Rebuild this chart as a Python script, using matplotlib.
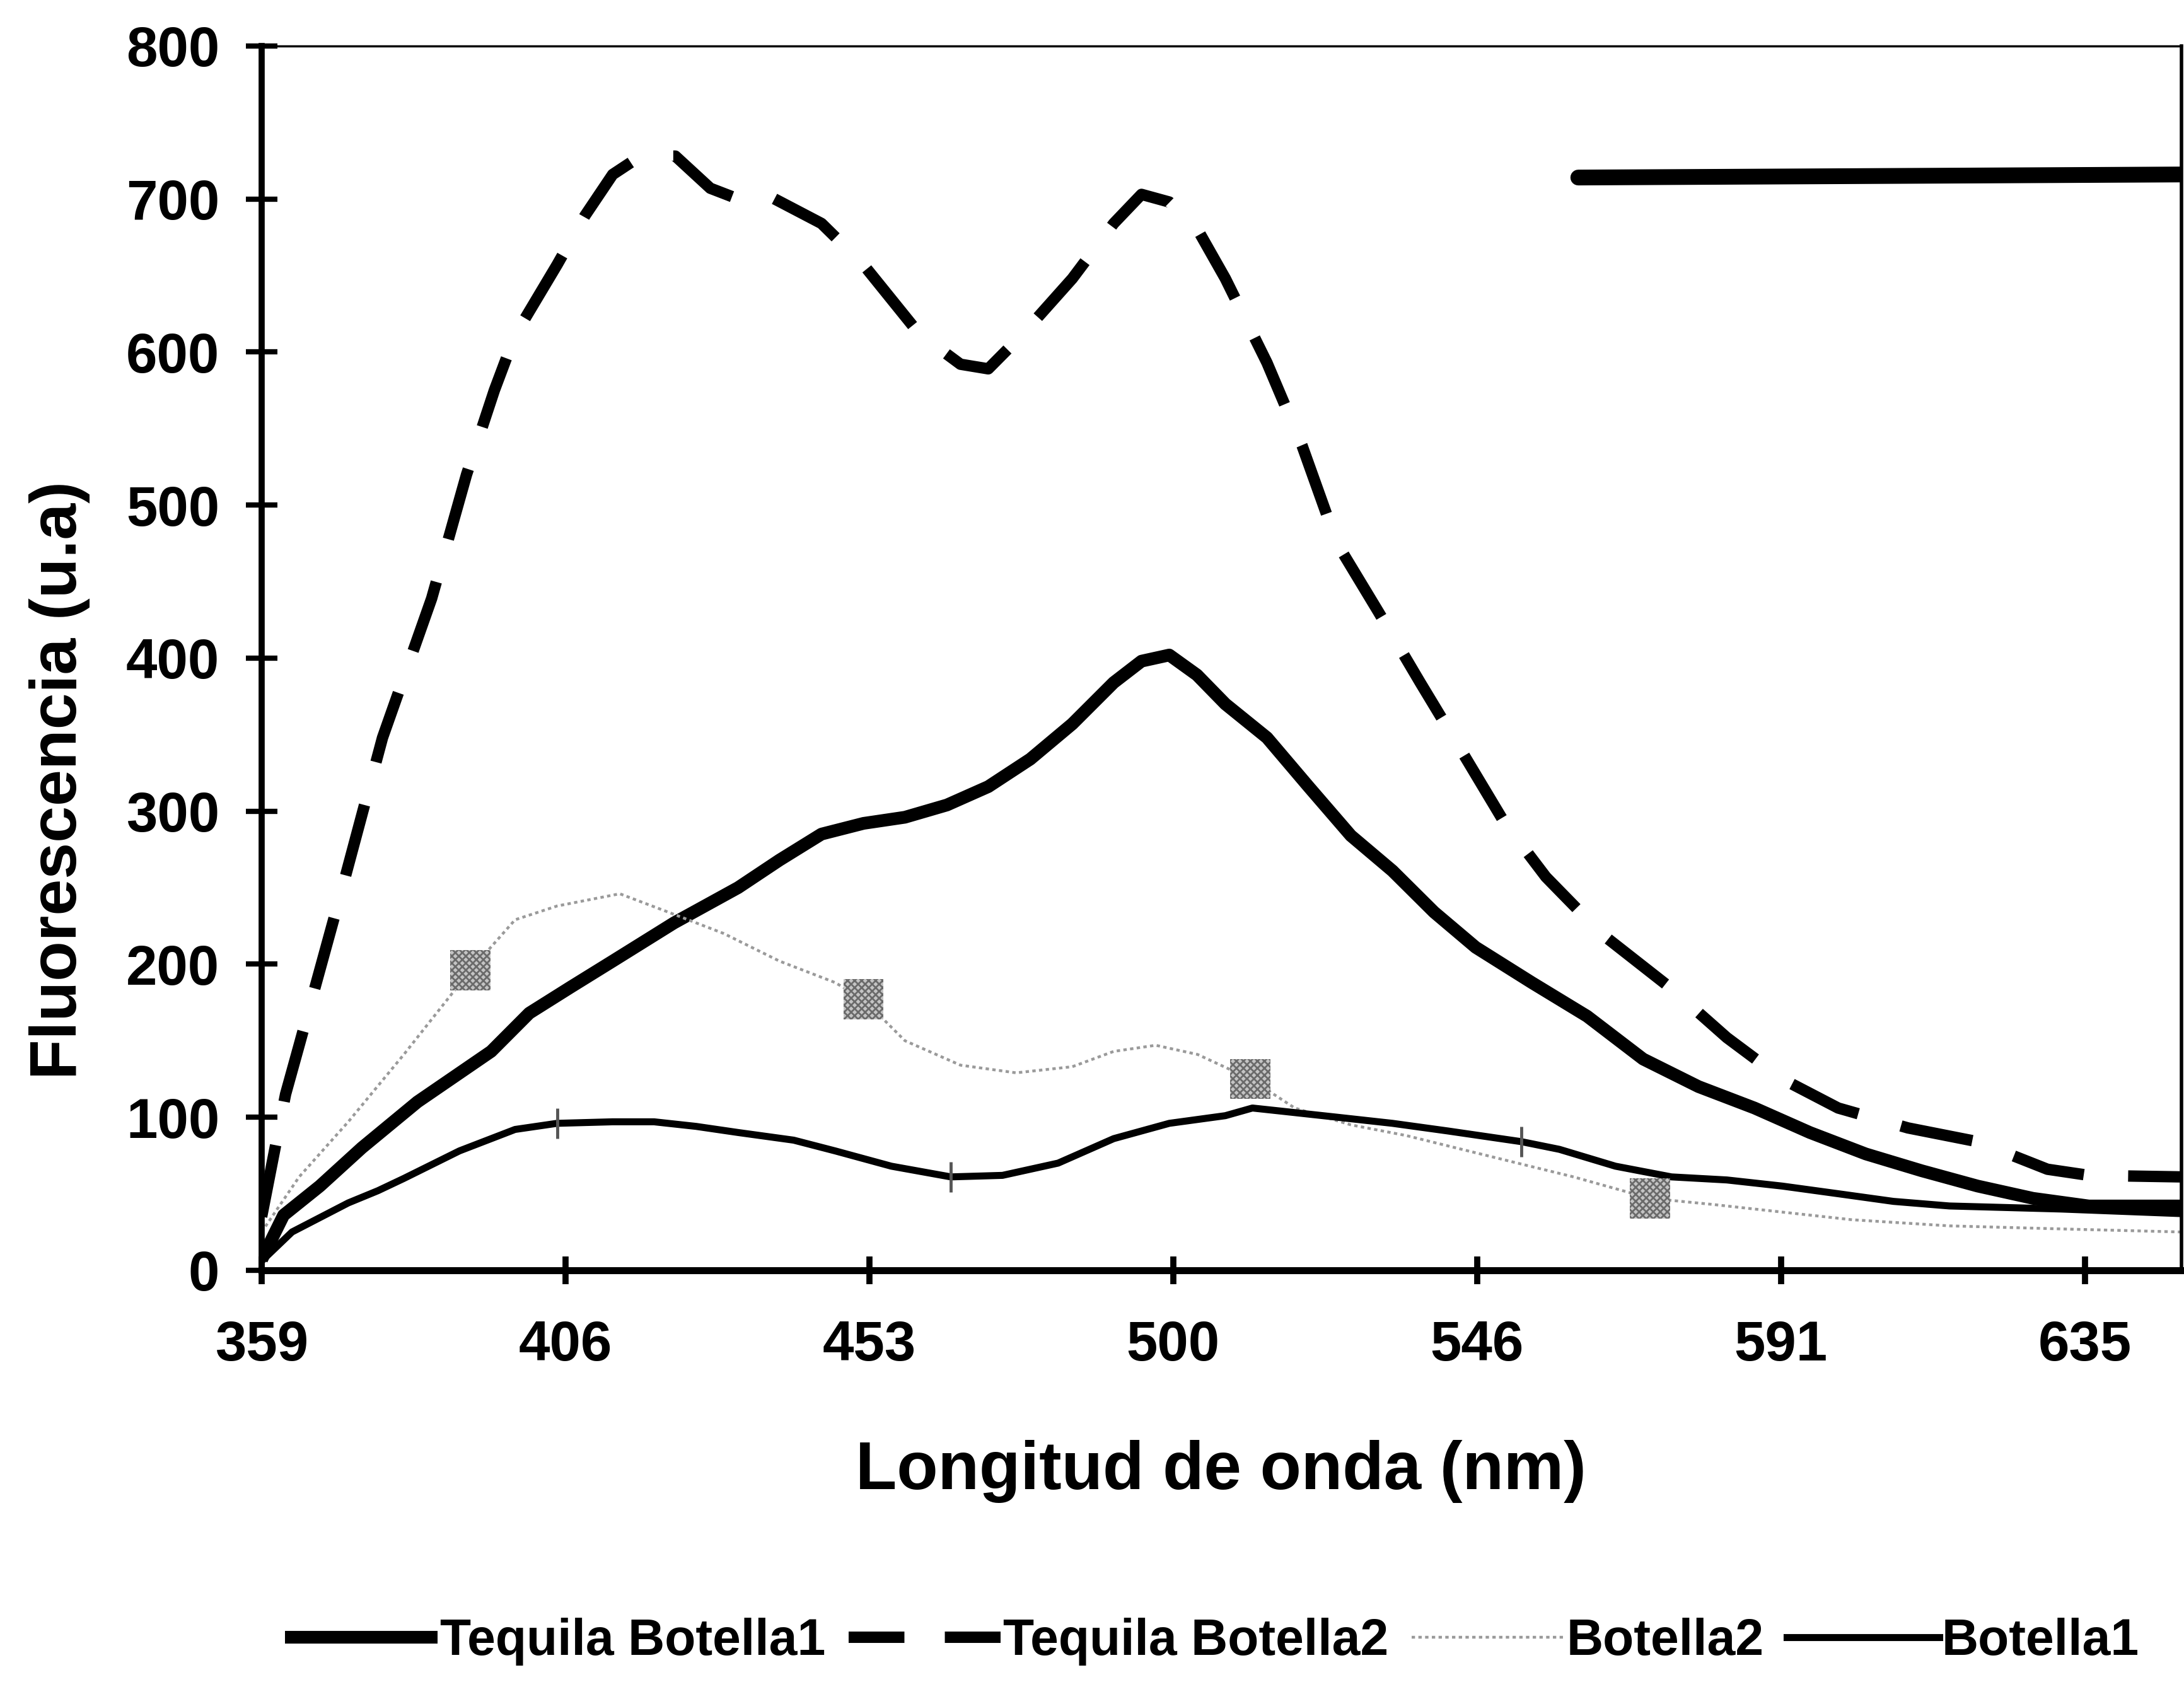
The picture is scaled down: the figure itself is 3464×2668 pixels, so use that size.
import numpy as np
import matplotlib
matplotlib.use("Agg")
import matplotlib.pyplot as plt
from matplotlib import font_manager
from matplotlib.font_manager import FontProperties
from matplotlib.lines import Line2D

# --- Eje de longitud de onda: categorías equiespaciadas -------------------
etiquetas_nm = [359, 406, 453, 500, 546, 591, 635]
nm_inicio = 359
nm_final = 649

# --- Series de fluorescencia (u.a) ----------------------------------------
tb1_nm = [359, 362.4, 368, 374.5, 383.1, 394.5, 400.4, 406.8, 413.3, 422.8, 432.7,
          439.1, 445.6, 452.1, 458.5, 465, 471.4, 477.9, 484.4, 490.8, 495.1, 499.4,
          503.6, 507.9, 514.2, 520.5, 526.9, 533.2, 539.5, 545.8, 554.1, 562.3, 570.6,
          578.8, 587.1, 595.2, 603.3, 611.4, 619.5, 627.5, 635.6, 649]
tb1_val = [7, 36, 55, 80, 110, 143, 168, 185, 202, 227, 250,
           268, 285, 292, 296, 304, 316, 334, 357, 384, 398, 402,
           389, 370, 348, 316, 284, 261, 234, 211, 188, 166, 138,
           120, 106, 90, 76, 65, 55, 47, 42, 42]

tb2_nm = [359, 362.7, 364.8, 371.3, 377.7, 385.3, 390.7, 395.0, 398.2, 404.7, 409.0,
          413.3, 417.6, 423.0, 428.4, 432.7, 437.0, 445.6, 452.1, 460.7, 467.1, 471.4,
          476.8, 484.4, 490.8, 495.1, 499.4, 503.7, 507.9, 514.2, 519.5, 524.8, 531.1,
          537.4, 543.7, 550.0, 556.2, 564.4, 574.8, 583.0, 591.2, 599.3, 609.4, 619.5,
          629.6, 635.6, 649]
tb2_val = [35, 115, 147, 247, 348, 439, 520, 575, 611, 657, 689,
           716, 728, 728, 707, 700, 703, 684, 657, 612, 592, 589,
           612, 648, 684, 703, 698, 680, 648, 593, 539, 475, 430,
           384, 339, 293, 257, 220, 184, 152, 125, 106, 93, 84,
           66, 62, 61]

b2_nm = [359, 364.8, 372.4, 381.0, 391.3, 398.2, 404.7, 414.4, 421.9, 430.5, 439.1,
         447.7, 452.1, 458.5, 467.1, 475.7, 484.4, 490.8, 497.3, 503.7, 511.7, 518.4,
         526.9, 535.3, 543.7, 552.0, 560.3, 571.6, 580.9, 591.2, 601.3, 615.4, 631.6, 649]
b2_val = [25, 61, 97, 141, 196, 229, 238, 246, 234, 220, 202,
          188, 177, 150, 134, 129, 133, 143, 147, 141, 125, 106,
          95, 88, 79, 70, 61, 47, 43, 38, 33, 29, 27, 25]
b2_marcas_nm = [391.3, 452.1, 511.7, 571.6]

b1_nm = [359, 363.7, 372.4, 377.0, 381.0, 389.6, 398.2, 404.7, 413.3, 419.7, 426.2,
         432.7, 441.3, 447.7, 456.4, 465.6, 473.6, 482.2, 490.8, 499.4, 507.9, 512.0,
         516.3, 524.8, 533.2, 541.6, 552.6, 558.2, 566.5, 574.8, 583.0, 591.2, 599.3,
         607.3, 615.4, 623.5, 631.6, 649]
b1_val = [6, 25, 44, 52, 60, 78, 92, 96, 97, 97, 94,
          90, 85, 78, 68, 61, 62, 70, 86, 96, 101, 106,
          104, 100, 96, 91, 84, 79, 68, 61, 59, 55, 50,
          45, 42, 41, 40, 37]
b1_marcas_nm = [404.7, 465.6, 552.6]

# trazo horizontal en la esquina superior derecha
trazo_nm = [561, 649]
trazo_val = [714, 716]

nombres = ["Tequila Botella1", "Tequila Botella2", "Botella2", "Botella1"]

# --- Fuentes ---------------------------------------------------------------
plt.rcParams["font.family"] = ["Liberation Sans", "DejaVu Sans"]
plt.rcParams["font.weight"] = "bold"
plt.rcParams["hatch.linewidth"] = 2.0
disponibles = {f.name for f in font_manager.fontManager.ttflist}
if "Liberation Sans Narrow" in disponibles:
    fuente_leyenda = FontProperties(family=["Liberation Sans Narrow", "Liberation Sans"],
                                    weight="bold", size=68)
    largo_muestra = 2.55
else:
    fuente_leyenda = FontProperties(family=["Liberation Sans"], weight="bold", size=58)
    largo_muestra = 3.0

# --- Escala: cada etiqueta ocupa el mismo ancho ------------------------------
nodos_nm = [etiquetas_nm[0] - 47 * 10] + etiquetas_nm + [etiquetas_nm[-1] + 44 * 10]
nodos_pos = [-10] + list(range(len(etiquetas_nm))) + [len(etiquetas_nm) - 1 + 10]


def a_posicion(x):
    return np.interp(x, nodos_nm, nodos_pos)


def a_nm(p):
    return np.interp(p, nodos_pos, nodos_nm)


fig = plt.figure(figsize=(34.64, 26.68), dpi=100)
ax = fig.add_axes([0.1198, 0.2448, 0.8790, 0.7279])
ax.set_xscale("function", functions=(a_posicion, a_nm))

negro = "black"
l_tb1, = ax.plot(tb1_nm, tb1_val, color=negro, lw=14.5, solid_joinstyle="round",
                 solid_capstyle="butt", label=nombres[0])
l_tb2, = ax.plot(tb2_nm, tb2_val, color=negro, lw=13, linestyle=(0, (6.4, 3.9)),
                 dash_capstyle="butt", dash_joinstyle="round", label=nombres[1])
l_b2, = ax.plot(b2_nm, b2_val, color="#9a9a9a", lw=3.2, linestyle=(0, (1.2, 1.2)),
                label=nombres[2])
l_b1, = ax.plot(b1_nm, b1_val, color=negro, lw=8, solid_joinstyle="round",
                label=nombres[3])
ax.plot(trazo_nm, trazo_val, color=negro, lw=18, solid_capstyle="round")

# marcadores sobre las series de botella
sel2 = np.isin(b2_nm, b2_marcas_nm)
ax.scatter(np.array(b2_nm)[sel2], np.array(b2_val)[sel2], marker="s", s=2100,
           facecolor="#c4c4c4", edgecolor="#6a6a6a", hatch="xxx", linewidths=0,
           zorder=3)
sel1 = np.isin(b1_nm, b1_marcas_nm)
ax.plot(np.array(b1_nm)[sel1], np.array(b1_val)[sel1], linestyle="none",
        marker="|", markersize=34, markeredgewidth=3.5, color="#555555", zorder=4)

# --- Ejes --------------------------------------------------------------------
ax.set_xlim(nm_inicio, nm_final)
ax.set_ylim(0, 800)
ax.set_xticks(etiquetas_nm)
ax.set_xticklabels([str(v) for v in etiquetas_nm])
ax.set_yticks(range(0, 801, 100))
ax.minorticks_off()

ax.spines["left"].set_linewidth(7)
ax.spines["bottom"].set_linewidth(8)
ax.spines["top"].set_linewidth(2.5)
ax.spines["right"].set_linewidth(4)

ax.tick_params(axis="y", direction="inout", length=36, width=6, pad=30,
               labelsize=64)
ax.tick_params(axis="x", direction="inout", length=32, width=7, pad=40,
               labelsize=64)
for t in ax.get_xticklabels() + ax.get_yticklabels():
    t.set_fontweight("bold")

fig.text(0.5589, 0.1147, "Longitud de onda (nm)", ha="center", va="baseline",
         fontsize=77, fontweight="bold")
fig.text(0.0274, 0.536, "Fluorescencia (u.a)", rotation=90, ha="center",
         va="center", fontsize=75, fontweight="bold")

# muestra de la leyenda para la serie discontinua (dos trazos)
muestra_tb2 = Line2D([], [], color=negro, lw=13, linestyle=(0, (4.9, 3.55)),
                     dash_capstyle="butt")

fig.legend([l_tb1, muestra_tb2, l_b2, l_b1], nombres, loc="center",
           bbox_to_anchor=(0.555, 0.024), ncol=4, frameon=False,
           prop=fuente_leyenda, handlelength=largo_muestra, handletextpad=0.05,
           columnspacing=0.45, borderaxespad=0, borderpad=0)

fig.savefig("out.png", dpi=100, facecolor="white")
